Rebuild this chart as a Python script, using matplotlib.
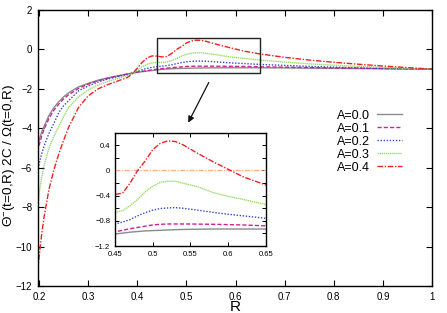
import matplotlib
matplotlib.use("Agg")
import matplotlib.pyplot as plt
from matplotlib.patches import Rectangle
from matplotlib.ticker import MultipleLocator

plt.rcParams['font.family'] = ['Liberation Sans', 'DejaVu Sans']
plt.rcParams['mathtext.fontset'] = 'custom'
plt.rcParams['mathtext.rm'] = 'Liberation Sans'
plt.rcParams['mathtext.it'] = 'Liberation Sans:italic'

R = [0.197, 0.2, 0.205, 0.21, 0.22, 0.23, 0.24, 0.25, 0.26, 0.28, 0.30, 0.32, 0.34,
     0.36, 0.38, 0.39, 0.40, 0.41, 0.42, 0.43, 0.44, 0.45, 0.46, 0.47, 0.48, 0.49,
     0.50, 0.51, 0.52, 0.53, 0.54, 0.55, 0.56, 0.58, 0.60, 0.62, 0.65, 0.70, 0.75,
     0.80, 0.85, 0.90, 0.95, 1.0]

A00 = [-4.9, -4.6, -4.2, -3.9, -3.35, -2.95, -2.65, -2.4, -2.2, -1.9, -1.72, -1.56, -1.44,
       -1.34, -1.24, -1.2, -1.16, -1.13, -1.1, -1.07, -1.04, -1.01, -0.995, -0.98, -0.97, -0.96,
       -0.955, -0.95, -0.945, -0.94, -0.937, -0.935, -0.933, -0.93, -0.93, -0.93, -0.93, -0.94, -0.95,
       -0.96, -0.97, -0.98, -0.99, -1.0]
A01 = [-5.2, -4.85, -4.4, -4.05, -3.5, -3.08, -2.77, -2.5, -2.3, -1.98, -1.76, -1.59, -1.46,
       -1.35, -1.25, -1.2, -1.15, -1.11, -1.07, -1.04, -1.0, -0.975, -0.95, -0.925, -0.905, -0.885,
       -0.865, -0.855, -0.85, -0.85, -0.85, -0.85, -0.852, -0.855, -0.86, -0.865, -0.88, -0.9, -0.92,
       -0.94, -0.955, -0.97, -0.985, -1.0]
A02 = [-6.2, -5.8, -5.3, -4.9, -4.25, -3.75, -3.2, -2.85, -2.6, -2.1, -1.85, -1.65, -1.5,
       -1.38, -1.27, -1.2, -1.12, -1.03, -0.96, -0.91, -0.87, -0.85, -0.82, -0.78, -0.72, -0.67,
       -0.63, -0.605, -0.595, -0.59, -0.6, -0.615, -0.63, -0.665, -0.695, -0.72, -0.76, -0.81, -0.86,
       -0.9, -0.93, -0.96, -0.98, -1.0]
A03 = [-8.0, -7.3, -6.5, -5.9, -5.0, -4.4, -3.9, -3.4, -2.95, -2.4, -2.05, -1.8, -1.62,
       -1.48, -1.33, -1.2, -1.05, -0.88, -0.75, -0.68, -0.66, -0.665, -0.64, -0.56, -0.46, -0.34,
       -0.25, -0.19, -0.17, -0.17, -0.2, -0.23, -0.26, -0.35, -0.41, -0.46, -0.54, -0.64, -0.73,
       -0.8, -0.86, -0.91, -0.96, -1.0]
A04 = [-11.2, -10.5, -9.4, -8.5, -7.1, -6.1, -5.3, -4.6, -3.95, -2.95, -2.35, -2.0, -1.78,
       -1.6, -1.42, -1.22, -0.95, -0.65, -0.42, -0.33, -0.34, -0.38, -0.36, -0.2, 0.0, 0.15,
       0.33, 0.43, 0.47, 0.46, 0.41, 0.34, 0.27, 0.14, 0.02, -0.1, -0.23, -0.4, -0.54,
       -0.65, -0.75, -0.84, -0.92, -1.0]

labels = ["A=0.0", "A=0.1", "A=0.2", "A=0.3", "A=0.4"]
series = [A00, A01, A02, A03, A04]
colors = ["#8a8a8a", "#cc2299", "#3344cc", "#99dd66", "#ee2222"]
styles = ["-", (0, (3, 1.5)), (0, (1, 1.2)), (0, (1, 0.5)), (0, (4, 1.2, 1, 1.2))]

main_xticks = [0.2, 0.3, 0.4, 0.5, 0.6, 0.7, 0.8, 0.9, 1.0]
main_xticklabels = ["0.2", "0.3", "0.4", "0.5", "0.6", "0.7", "0.8", "0.9", "1"]
main_yticks = [-12, -10, -8, -6, -4, -2, 0, 2]
inset_xticks = [0.45, 0.5, 0.55, 0.6, 0.65]
inset_yticks = [-1.2, -0.8, -0.4, 0, 0.4]

fig = plt.figure(figsize=(4.47, 3.13), dpi=100)
ax = fig.add_axes([0.0843, 0.0863, 0.8821, 0.8817])

for y, lab, c, ls in zip(series, labels, colors, styles):
    ax.plot(R, y, color=c, linestyle=ls, lw=1.0, label=lab)

ax.set_xlim(0.197, 1.0)
ax.set_ylim(-12, 2)
ax.set_xticks(main_xticks)
ax.set_xticklabels(main_xticklabels)
ax.set_yticks(main_yticks)
ax.set_yticklabels([str(t).replace("-", "\u2212") for t in main_yticks])
ax.tick_params(direction="in", top=True, right=True, labelsize=7, length=4, width=0.8, pad=4)
for s in ax.spines.values():
    s.set_linewidth(1.0)
ax.set_xlabel("R", fontsize=11, labelpad=-1)
ax.set_ylabel(r"$\Theta^{-}$(t=0,R) 2C / $\Omega$(t=0,R)", fontsize=9.7)
ax.yaxis.set_label_coords(-0.052, 0.475)

leg = ax.legend(loc="upper right", bbox_to_anchor=(0.945, 0.67), frameon=False,
                markerfirst=False, fontsize=9, handlelength=2.0, handletextpad=0.5,
                labelspacing=0.08, borderpad=0.2)

ax.add_patch(Rectangle((0.44, -1.2), 0.21, 1.8, fill=False, edgecolor="#222222", lw=1.0, zorder=5))
ax.annotate("", xy=(0.501, -3.84), xytext=(0.548, -1.55),
            arrowprops=dict(arrowstyle="-|>", color="#111111", lw=0.9, mutation_scale=9))

ins = fig.add_axes([0.2573, 0.214, 0.3371, 0.362])
ins.axhline(0, color="#ffaa88", linestyle=(0, (4, 1.2, 1, 1.2)), lw=0.9)
for y, c, ls in zip(series, colors, styles):
    ins.plot(R, y, color=c, linestyle=ls, lw=1.0)
ins.set_xlim(0.45, 0.65)
ins.set_ylim(-1.2, 0.6)
ins.set_xticks(inset_xticks)
ins.set_xticklabels(["0.45", "0.5", "0.55", "0.6", "0.65"])
ins.set_yticks(inset_yticks)
ins.set_yticklabels(["\u22121.2", "\u22120.8", "\u22120.4", "0", "0.4"])
ins.yaxis.set_minor_locator(MultipleLocator(0.2))
ins.tick_params(which="both", direction="in", top=True, right=True, labelsize=5.5, length=3, width=0.7)
ins.tick_params(which="minor", labelleft=False, length=3)
for s in ins.spines.values():
    s.set_linewidth(1.0)

fig.savefig("out.png", dpi=100)
